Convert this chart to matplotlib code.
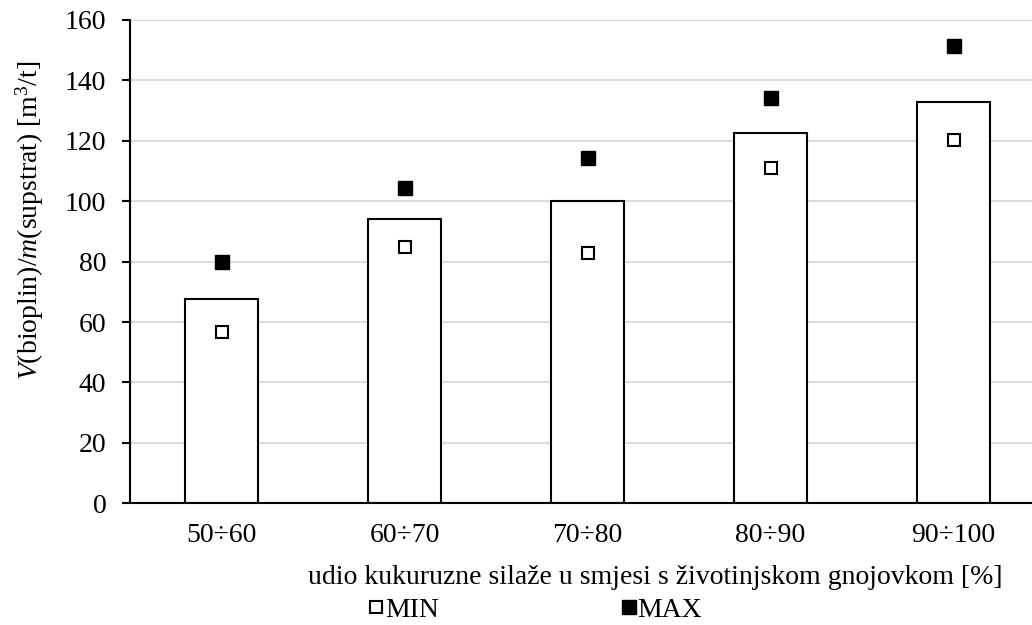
import matplotlib
matplotlib.use("Agg")
import matplotlib.pyplot as plt
from matplotlib.lines import Line2D

categories = ["50÷60", "60÷70", "70÷80", "80÷90", "90÷100"]
mean_values = [67.6, 94.0, 100.1, 122.7, 132.7]
min_values = [56.8, 84.8, 82.8, 111.0, 120.3]
max_values = [79.9, 104.5, 114.2, 134.3, 151.4]
y_ticks = [0, 20, 40, 60, 80, 100, 120, 140, 160]

plt.rcParams["font.family"] = ["Liberation Serif", "DejaVu Serif"]
plt.rcParams["mathtext.fontset"] = "custom"
plt.rcParams["mathtext.rm"] = "Liberation Serif"
plt.rcParams["mathtext.it"] = "Liberation Serif:italic"
plt.rcParams["mathtext.bf"] = "Liberation Serif:bold"

FS = 20
W, H = 1032, 625
x0, x1, yb, yt = 130, 1045, 503.3, 20

fig = plt.figure(figsize=(W / 100, H / 100), dpi=100)
ax = fig.add_axes([x0 / W, 1 - yb / H, (x1 - x0) / W, (yb - yt) / H])

x = list(range(len(categories)))
ax.bar(x, mean_values, width=0.4, facecolor="white", edgecolor="black",
       linewidth=1.5, zorder=2)
ax.plot(x, min_values, linestyle="none", marker="s", markersize=9,
        markerfacecolor="white", markeredgecolor="black", markeredgewidth=1.5,
        zorder=3)
ax.plot(x, max_values, linestyle="none", marker="s", markersize=9.5,
        markerfacecolor="black", markeredgecolor="black", markeredgewidth=1,
        zorder=3)

ax.set_xlim(-0.5, len(categories) - 0.5)
ax.set_ylim(0, 160)
ax.set_yticks(y_ticks)
ax.set_xticks(x)
ax.set_xticklabels(categories)
ax.yaxis.grid(True, color="#d9d9d9", linewidth=1.3, zorder=0)
ax.set_axisbelow(True)

for side in ("top", "right"):
    ax.spines[side].set_visible(False)
for side in ("left", "bottom"):
    ax.spines[side].set_linewidth(1.5)
    ax.spines[side].set_color("black")

ax.tick_params(axis="y", direction="out", length=6, width=1.5, pad=11, labelsize=FS)
ax.tick_params(axis="x", length=0, pad=14, labelsize=FS)

ax.set_xlabel("udio kukuruzne silaže u smjesi s životinjskom gnojovkom [%]",
              fontsize=FS)
ax.xaxis.set_label_coords((655 - x0) / (x1 - x0), -(577 - yb) / (yb - yt))
ax.xaxis.label.set_va("center")
ax.set_ylabel(r"$\mathit{V}$(bioplin)/$\mathit{m}$(supstrat) [m$^3$/t]", fontsize=FS)
ax.yaxis.set_label_coords(-(x0 - 30) / (x1 - x0), (yb - 220) / (yb - yt))
ax.yaxis.label.set_va("center")

handles = [
    Line2D([], [], linestyle="none", marker="s", markersize=9,
           markerfacecolor="white", markeredgecolor="black", markeredgewidth=1.5),
    Line2D([], [], linestyle="none", marker="s", markersize=9.5,
           markerfacecolor="black", markeredgecolor="black"),
]
fig.legend(handles, ["MIN", "MAX"], loc="center", ncol=2,
           bbox_to_anchor=(536 / W, 1 - 610 / H), frameon=False,
           fontsize=FS, handlelength=0.45, handletextpad=0.1,
           columnspacing=6.6, borderaxespad=0)

fig.savefig("out.png", dpi=100)
